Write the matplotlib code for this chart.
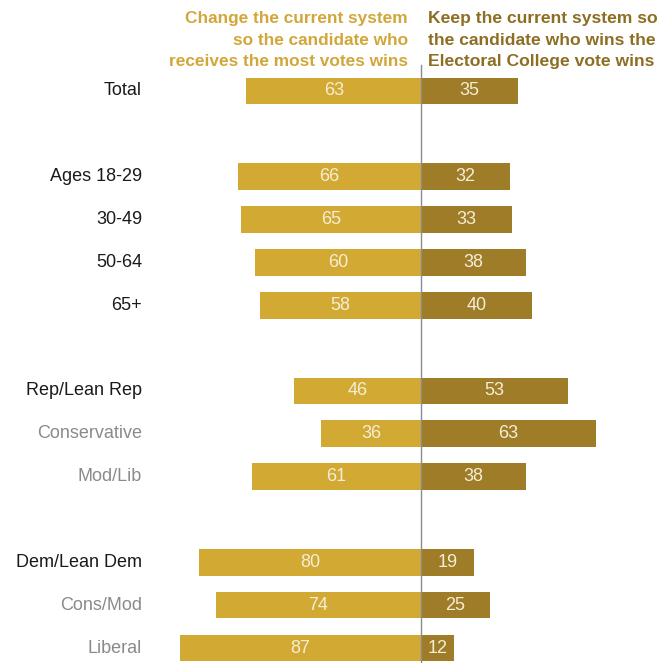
import matplotlib

matplotlib.use("Agg")
import matplotlib.pyplot as plt

groups = ["Total", "Ages 18-29", "30-49", "50-64", "65+",
          "Rep/Lean Rep", "Conservative", "Mod/Lib",
          "Dem/Lean Dem", "Cons/Mod", "Liberal"]
change = [63, 66, 65, 60, 58, 46, 36, 61, 80, 74, 87]
keep = [35, 32, 33, 38, 40, 53, 63, 38, 19, 25, 12]
rows = [0, 2, 3, 4, 5, 7, 8, 9, 11, 12, 13]
subgroup = [False, False, False, False, False, False, True, True, False, True, True]

LEFT_COLOR = "#D2A933"
RIGHT_COLOR = "#9E7C28"
VALUE_COLOR = "#F6EDD6"

plt.rcParams["font.family"] = ["Liberation Sans", "DejaVu Sans"]

fig = plt.figure(figsize=(6.62, 6.63), dpi=100)
ax = fig.add_axes([0, 0, 1, 1])

# pixel mapping: center at x=421, ~2.77 px per point; rows 42.85 px apart
ax.set_xlim(-421 / 2.77, (662 - 421) / 2.77)
ax.set_ylim(13 + (663 - 648) / 42.85, -91 / 42.85)
ax.axis("off")

bar_h = 0.62
ax.barh(rows, [-v for v in change], height=bar_h, color=LEFT_COLOR)
ax.barh(rows, keep, height=bar_h, color=RIGHT_COLOR)

for r, c, k, name, sub in zip(rows, change, keep, groups, subgroup):
    ax.text(-c / 2, r, str(c), ha="center", va="center", color=VALUE_COLOR, fontsize=13)
    ax.text(k / 2, r, str(k), ha="center", va="center", color=VALUE_COLOR, fontsize=13)
    ax.text(-(421 - 142) / 2.77, r, name, ha="right", va="center",
            color="#8a8a8a" if sub else "#1a1a1a", fontsize=13)

# center line
ax.plot([0, 0], [-0.6, 13.4], color="#8c8c8c", lw=1, zorder=3)

ax.text(-13 / 2.77, -1.19,
        "Change the current system\nso the candidate who\nreceives the most votes wins",
        ha="right", va="center", color="#D2A73A", fontsize=12.4, fontweight="bold",
        linespacing=1.55)
ax.text(7 / 2.77, -1.19,
        "Keep the current system so\nthe candidate who wins the\nElectoral College vote wins",
        ha="left", va="center", color="#8E6E22", fontsize=12.6, fontweight="bold",
        linespacing=1.55)

fig.savefig("out.png", dpi=100)
